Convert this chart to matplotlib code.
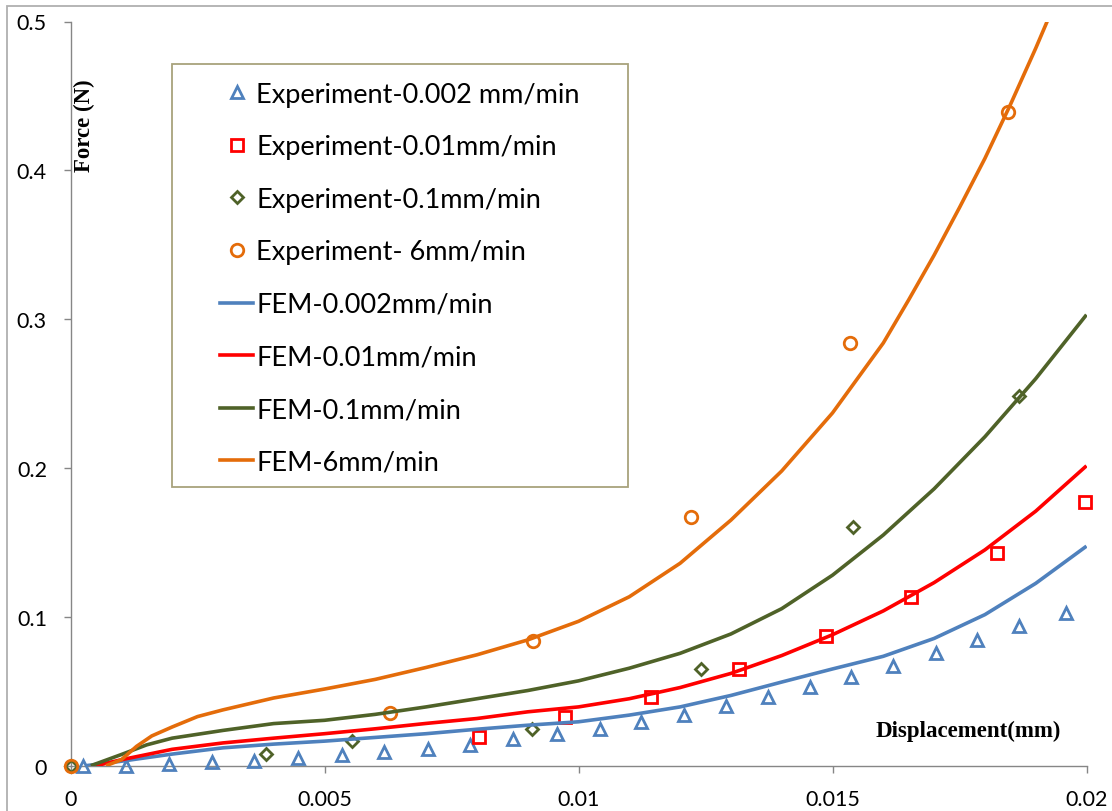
import numpy as np
import matplotlib
matplotlib.use('Agg')
import matplotlib.pyplot as plt
from matplotlib.lines import Line2D
from matplotlib.patches import Rectangle

# experiment points (displacement in mm, force in N)
exp_002_x = [0.00024, 0.00109, 0.00193, 0.00278, 0.00362, 0.00447, 0.00534, 0.00618,
             0.00703, 0.00786, 0.00872, 0.00958, 0.01042, 0.01124, 0.01208, 0.01290,
             0.01374, 0.01456, 0.01536, 0.01620, 0.01703, 0.01785, 0.01868, 0.01959]
exp_002_y = [0.0, 0.0, 0.0011, 0.0023, 0.0034, 0.0050, 0.0072, 0.0090,
             0.0112, 0.0141, 0.0179, 0.0213, 0.0247, 0.0296, 0.0343, 0.0399,
             0.0460, 0.0527, 0.0596, 0.0672, 0.0755, 0.0845, 0.0941, 0.1026]

exp_01_x = [0.00805, 0.00973, 0.01143, 0.01316, 0.01487, 0.01655, 0.01823, 0.01997]
exp_01_y = [0.0191, 0.0325, 0.0464, 0.0650, 0.0870, 0.1132, 0.1427, 0.1774]

exp_1_x = [0.0, 0.00384, 0.00554, 0.00908, 0.01241, 0.01541, 0.01868]
exp_1_y = [0.0, 0.0079, 0.0164, 0.0247, 0.0650, 0.1606, 0.2487]

exp_6_x = [0.0, 0.00629, 0.00911, 0.01221, 0.01534, 0.01845]
exp_6_y = [0.0, 0.0352, 0.0840, 0.1671, 0.2839, 0.4391]

# FEM curves
fem_002_x = [0.0003, 0.001, 0.002, 0.003, 0.004, 0.005, 0.006, 0.007, 0.008, 0.009, 0.010,
             0.011, 0.012, 0.013, 0.014, 0.015, 0.016, 0.017, 0.018, 0.019, 0.020]
fem_002_y = [0.0, 0.003, 0.0078, 0.012, 0.0145, 0.0165, 0.019, 0.0215, 0.0245, 0.0272, 0.0295,
             0.034, 0.0395, 0.0472, 0.0562, 0.065, 0.0735, 0.0855, 0.1015, 0.1225, 0.1475]

fem_01_x = [0.0005, 0.001, 0.002, 0.003, 0.004, 0.005, 0.006, 0.007, 0.008, 0.009, 0.010,
            0.011, 0.012, 0.013, 0.014, 0.015, 0.016, 0.017, 0.018, 0.019, 0.020]
fem_01_y = [0.0, 0.004, 0.011, 0.0153, 0.0185, 0.0215, 0.0248, 0.0284, 0.0317, 0.0362, 0.0395,
            0.045, 0.0525, 0.062, 0.074, 0.088, 0.104, 0.123, 0.145, 0.171, 0.2015]

fem_1_x = [0.0004, 0.001, 0.0015, 0.002, 0.003, 0.004, 0.005, 0.006, 0.007, 0.008, 0.009, 0.010,
           0.011, 0.012, 0.013, 0.014, 0.015, 0.016, 0.017, 0.018, 0.019, 0.020]
fem_1_y = [0.0, 0.0075, 0.014, 0.0185, 0.0237, 0.0283, 0.0305, 0.0345, 0.0395, 0.045, 0.0505, 0.057,
           0.0655, 0.0755, 0.0885, 0.1055, 0.128, 0.155, 0.186, 0.221, 0.260, 0.303]

fem_6_x = [0.0007, 0.001, 0.0013, 0.0016, 0.002, 0.0025, 0.003, 0.004, 0.005, 0.006, 0.007,
           0.008, 0.009, 0.010, 0.011, 0.012, 0.013, 0.014, 0.015, 0.016, 0.0165, 0.017,
           0.0175, 0.018, 0.0185, 0.019, 0.0193]
fem_6_y = [0.0, 0.004, 0.013, 0.020, 0.026, 0.033, 0.0375, 0.0455, 0.0515, 0.058, 0.066,
           0.0745, 0.0845, 0.097, 0.1135, 0.136, 0.165, 0.198, 0.237, 0.284, 0.313, 0.343,
           0.375, 0.408, 0.444, 0.482, 0.506]

x_ticks = [0, 0.005, 0.01, 0.015, 0.02]
x_ticklabels = ['0', '0.005', '0.01', '0.015', '0.02']
y_ticks = [0, 0.1, 0.2, 0.3, 0.4, 0.5]
y_ticklabels = ['0', '0.1', '0.2', '0.3', '0.4', '0.5']

labels = ['Experiment-0.002 mm/min', 'Experiment-0.01mm/min', 'Experiment-0.1mm/min',
          'Experiment- 6mm/min', 'FEM-0.002mm/min', 'FEM-0.01mm/min', 'FEM-0.1mm/min',
          'FEM-6mm/min']


def main():
	plt.rcParams['font.family'] = ['Lato', 'DejaVu Sans']

	W, H = 1112, 812
	fig = plt.figure(figsize=(W / 100, H / 100), dpi=100)
	# plot area in pixels: x 70.5..1086.5, y 22.5..766.7
	ax = fig.add_axes([70.5 / W, (H - 766.7) / H, 1016 / W, (766.7 - 22.5) / H])

	blue = '#4f81bd'
	red = '#ff0000'
	green = '#4f6228'
	orange = '#e46c0a'

	mew = 2.0
	ax.plot(exp_002_x, exp_002_y, ls='none', marker='^', ms=9, mfc='none', mec=blue, mew=mew, clip_on=False, zorder=3)
	ax.plot(exp_01_x, exp_01_y, ls='none', marker='s', ms=8.5, mfc='none', mec=red, mew=mew, clip_on=False, zorder=3)
	ax.plot(exp_1_x, exp_1_y, ls='none', marker='D', ms=6.3, mfc='none', mec=green, mew=mew, clip_on=False, zorder=3)
	ax.plot(exp_6_x, exp_6_y, ls='none', marker='o', ms=9, mfc='none', mec=orange, mew=mew, clip_on=False, zorder=3)

	lw = 2.6
	ax.plot(fem_002_x, fem_002_y, color=blue, lw=lw, zorder=4, solid_capstyle='butt', solid_joinstyle='round')
	ax.plot(fem_01_x, fem_01_y, color=red, lw=lw, zorder=4, solid_capstyle='butt', solid_joinstyle='round')
	ax.plot(fem_1_x, fem_1_y, color=green, lw=lw, zorder=4, solid_capstyle='butt', solid_joinstyle='round')
	ax.plot(fem_6_x, fem_6_y, color=orange, lw=lw, zorder=4, solid_capstyle='butt', solid_joinstyle='round')

	ax.set_xlim(0, 0.02)
	ax.set_ylim(0, 0.5)
	ax.set_xticks(x_ticks)
	ax.set_xticklabels(x_ticklabels)
	ax.set_yticks(y_ticks)
	ax.set_yticklabels(y_ticklabels)

	axis_grey = '#868686'
	for side in ['top', 'right']:
		ax.spines[side].set_visible(False)
	for side in ['left', 'bottom']:
		ax.spines[side].set_color(axis_grey)
		ax.spines[side].set_linewidth(1.0)
	ax.tick_params(axis='both', direction='out', length=5, width=1.0, color=axis_grey,
	               labelsize=15.5, labelcolor='black')
	ax.tick_params(axis='y', pad=12)
	ax.tick_params(axis='x', pad=12)

	# axis titles sit inside the plot area
	ax.set_ylabel('Force (N)', family='Liberation Serif', weight='bold', fontsize=16.5,
	              ha='center', va='center')
	ax.yaxis.set_label_coords((84 - 70.5) / 1016, (766.7 - 126) / 744.2)
	ax.set_xlabel('Displacement(mm)', family='Liberation Serif', weight='bold', fontsize=16.5,
	              ha='center', va='center')
	ax.xaxis.set_label_coords((968 - 70.5) / 1016, (766.7 - 731) / 744.2)

	# legend
	handles = [
		Line2D([], [], ls='none', marker='^', ms=9, mfc='none', mec=blue, mew=mew),
		Line2D([], [], ls='none', marker='s', ms=8.5, mfc='none', mec=red, mew=mew),
		Line2D([], [], ls='none', marker='D', ms=6.3, mfc='none', mec=green, mew=mew),
		Line2D([], [], ls='none', marker='o', ms=9, mfc='none', mec=orange, mew=mew),
		Line2D([], [], color=blue, lw=lw),
		Line2D([], [], color=red, lw=lw),
		Line2D([], [], color=green, lw=lw),
		Line2D([], [], color=orange, lw=lw),
	]
	leg = ax.legend(handles, labels, loc='upper left', bbox_to_anchor=(220 / W, 1 - 82.5 / H),
	                bbox_transform=fig.transFigure, frameon=False, fontsize=19.5,
	                borderpad=0, borderaxespad=0, handlelength=1.22, handletextpad=0.12,
	                labelspacing=1.02, numpoints=1)
	leg.set_zorder(5)
	fig.patches.append(Rectangle((172 / W, 1 - 488 / H), 456 / W, 423 / H, transform=fig.transFigure,
	                             fill=False, ec='#a8a27c', lw=1.3, zorder=5))

	# outer chart border
	fig.patches.append(Rectangle((7 / W, -0.1), 1.2, (H - 7) / H + 0.1, transform=fig.transFigure,
	                             fill=False, ec='#b0b0b0', lw=1.3))

	plt.savefig('out.png', dpi=100)
	plt.close()
	return


if __name__ == '__main__':
	main()
